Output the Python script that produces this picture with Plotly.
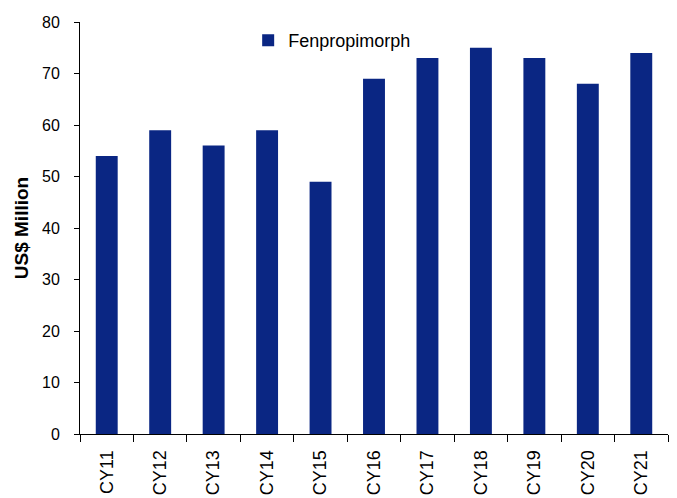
import plotly.graph_objects as go

# Annual Fenpropimorph market size
years = ["CY11", "CY12", "CY13", "CY14", "CY15", "CY16",
         "CY17", "CY18", "CY19", "CY20", "CY21"]
values = [54, 59, 56, 59, 49, 69, 73, 75, 73, 68, 74]
series_name = "Fenpropimorph"
y_title = "US$ Million"

BAR_COLOR = "#0a2683"
FONT = "Arial, Liberation Sans, sans-serif"

fig = go.Figure()
fig.add_trace(go.Bar(
    x=years,
    y=values,
    name=series_name,
    marker=dict(color=BAR_COLOR, line=dict(width=0)),
    showlegend=True,
))

fig.update_layout(
    width=677,
    height=498,
    margin=dict(l=80, r=9, t=22, b=64, pad=0),
    paper_bgcolor="white",
    plot_bgcolor="white",
    font=dict(family=FONT, size=16, color="#000000"),
    bargap=0.59,
    showlegend=True,
    legend=dict(
        x=0.286, y=1.0, xanchor="left", yanchor="top",
        bgcolor="rgba(0,0,0,0)",
        font=dict(family=FONT, size=18, color="#000000"),
        itemsizing="constant",
    ),
)

fig.update_xaxes(
    type="category",
    range=[-0.5, len(years) - 0.5],
    automargin=False,
    showline=True, linecolor="#000000", linewidth=1,
    ticks="outside", tickson="boundaries", ticklen=7,
    tickcolor="#000000", tickwidth=1,
    tickangle=-90,
    ticklabelstandoff=8,
    tickfont=dict(family=FONT, size=18, color="#000000"),
    showgrid=False, zeroline=False,
)

fig.update_yaxes(
    range=[0, 80], dtick=10, tick0=0,
    automargin=False,
    showline=True, linecolor="#000000", linewidth=1,
    ticks="outside", ticklen=5, tickcolor="#000000", tickwidth=1,
    ticklabelstandoff=11,
    tickfont=dict(family=FONT, size=16, color="#000000"),
    showgrid=False, zeroline=False,
    title=dict(text="<b>" + y_title + "</b>",
               font=dict(family=FONT, size=19, color="#000000"),
               standoff=8),
)

fig.write_html("out.html")
